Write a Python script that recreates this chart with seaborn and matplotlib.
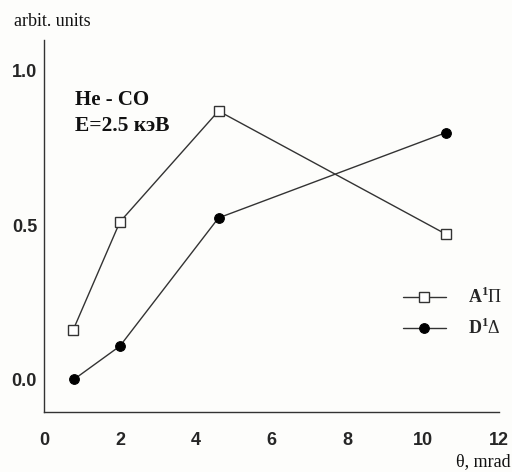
import matplotlib
matplotlib.use("Agg")
import matplotlib.pyplot as plt
import seaborn as sns
import pandas as pd

# Angular dependence of excitation cross sections, He - CO collisions
theta_A = [0.77, 2.0, 4.6, 10.6]
value_A = [0.16, 0.51, 0.87, 0.47]
theta_D = [0.8, 2.0, 4.6, 10.6]
value_D = [0.0, 0.107, 0.523, 0.80]
label_A = "A$^{\\mathbf{1}}\\Pi$"
label_D = "D$^{\\mathbf{1}}\\Delta$"
x_ticks = [0, 2, 4, 6, 8, 10, 12]
y_ticks = [0.0, 0.5, 1.0]

sns.set_theme(style="white")
plt.rcParams["font.family"] = ["Liberation Sans", "DejaVu Sans"]
plt.rcParams["mathtext.fontset"] = "custom"
plt.rcParams["mathtext.rm"] = "Liberation Serif"
plt.rcParams["mathtext.bf"] = "Liberation Serif:bold"

df_A = pd.DataFrame({"theta": theta_A, "value": value_A})
df_D = pd.DataFrame({"theta": theta_D, "value": value_D})

fig = plt.figure(figsize=(5.12, 4.72), dpi=100)
fig.patch.set_facecolor("#fdfdfb")
ax = fig.add_axes([0.086, 0.127, 0.889, 0.788])
ax.set_facecolor("#fdfdfb")

ink = "#333333"
sns.lineplot(data=df_A, x="theta", y="value", ax=ax, color=ink, lw=1.0,
             marker="s", markersize=7, markerfacecolor="white",
             markeredgecolor=ink, markeredgewidth=1.0, label=label_A)
sns.lineplot(data=df_D, x="theta", y="value", ax=ax, color=ink, lw=1.0,
             marker="o", markersize=7, markerfacecolor="black",
             markeredgecolor="black", label=label_D)

ax.set_xlim(0, 12)
ax.set_ylim(-0.107, 1.10)
ax.set_xticks(x_ticks)
ax.set_yticks(y_ticks)
ax.set_xticklabels([str(t) for t in x_ticks], fontsize=13, fontweight="bold")
ax.set_yticklabels([f"{t:.1f}" for t in y_ticks], fontsize=13, fontweight="bold")
ax.set_xlabel("")
ax.set_ylabel("")

for side in ("top", "right"):
    ax.spines[side].set_visible(False)
for side in ("left", "bottom"):
    ax.spines[side].set_color(ink)
    ax.spines[side].set_linewidth(1.0)

ax.tick_params(axis="y", direction="out", length=4, width=1, color=ink, pad=1)
ax.tick_params(axis="x", direction="in", length=4, width=1, color=ink, pad=14)

leg = ax.legend(loc="upper left", bbox_to_anchor=(0.772, 0.355), frameon=False,
                handlelength=2.4, handletextpad=1.2, labelspacing=0.6,
                borderaxespad=0.0,
                prop={"family": "Liberation Serif", "size": 13, "weight": "bold"})

ax.text(0.068, 0.825, "He - CO", transform=ax.transAxes, fontsize=15,
        fontweight="bold", family="Liberation Serif", color="#111")
ax.text(0.068, 0.755, "E=2.5 кэВ", transform=ax.transAxes, fontsize=15.5,
        fontweight="bold", family="Liberation Serif", color="#111")

fig.text(0.028, 0.945, "arbit. units", fontsize=13, family="Liberation Serif",
         color="#111")
fig.text(0.997, 0.012, "θ, mrad", fontsize=13, family="Liberation Serif",
         color="#111", ha="right")

fig.savefig("out.png", dpi=100, facecolor=fig.get_facecolor())
